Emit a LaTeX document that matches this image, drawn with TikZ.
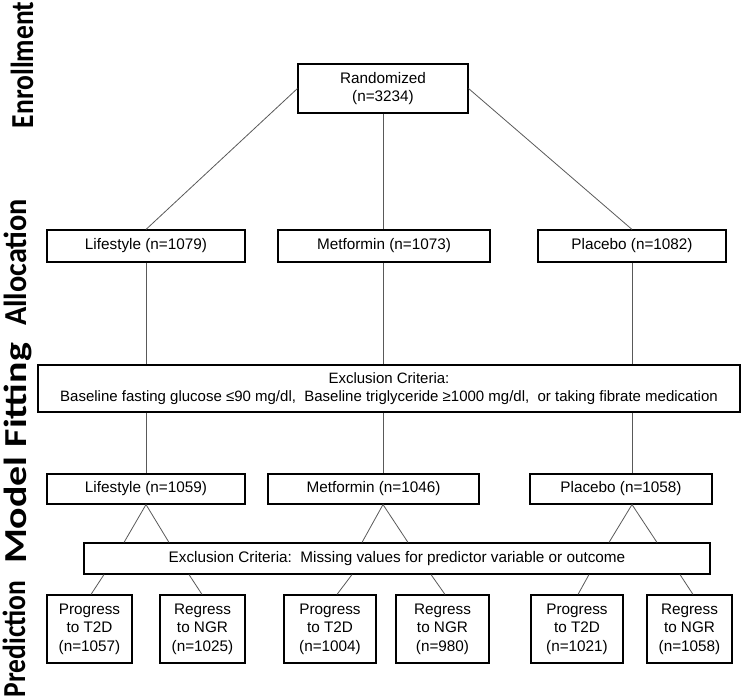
\documentclass[tikz,border=0pt]{standalone}
\usepackage{fontspec}
\setmainfont{Liberation Sans}
\newfontfamily\labfont[FakeStretch=0.86]{Carlito}
\begin{document}
\begin{tikzpicture}[x=1pt,y=-1pt,
  box/.style={draw=black, line width=1.1pt, inner sep=0pt, align=center, font=\fontsize{15.3}{18.6}\selectfont},
  conn/.style={draw=black!65, line width=0.8pt},
  phase/.style={rotate=90, anchor=base, inner sep=0pt, font=\labfont\bfseries\fontsize{32}{36}\selectfont}]
\useasboundingbox (0,0) rectangle (742,698);
% phase labels
\node[phase] (ph1) at (33,65) {Enrollment};
\node[phase] (ph2) at (26,262.5) {\scalebox{1.1}[1]{Allocation}};
\node[phase] (ph3) at (27,453.5) {\scalebox{1.45}[1]{Model Fitting}};
\node[phase] (ph4) at (25,639) {Prediction};
% boxes
\node[box, minimum width=170pt, minimum height=49pt] (rand) at (383,88.5) {Randomized\\(n=3234)};
\node[box, minimum width=198pt, minimum height=32pt] (a1) at (146,246) {Lifestyle (n=1079)};
\node[box, minimum width=212pt, minimum height=32pt] (a2) at (384,246) {Metformin (n=1073)};
\node[box, minimum width=188pt, minimum height=32pt] (a3) at (632,246) {Placebo (n=1082)};
\node[box, minimum width=702pt, minimum height=47pt, font=\fontsize{15}{18.3}\selectfont] (x1) at (389,388.5) {Exclusion Criteria:\\Baseline fasting glucose ≤90 mg/dl,\ \ Baseline triglyceride ≥1000 mg/dl,\ \ or taking fibrate medication};
\node[box, minimum width=198pt, minimum height=30pt] (b1) at (146,489) {Lifestyle (n=1059)};
\node[box, minimum width=211pt, minimum height=30pt] (b2) at (373.5,489) {Metformin (n=1046)};
\node[box, minimum width=182pt, minimum height=30pt] (b3) at (621,489) {Placebo (n=1058)};
\node[box, minimum width=626pt, minimum height=31pt] (x2) at (397,558.5) {Exclusion Criteria:\ \ Missing values for predictor variable or outcome};
\node[box, minimum width=85pt, minimum height=68pt] (p1) at (89.5,629) {Progress\\to T2D\\(n=1057)};
\node[box, minimum width=85pt, minimum height=68pt] (p2) at (202.5,629) {Regress\\to NGR\\(n=1025)};
\node[box, minimum width=92pt, minimum height=68pt] (p3) at (330,629) {Progress\\to T2D\\(n=1004)};
\node[box, minimum width=93pt, minimum height=68pt] (p4) at (442.5,629) {Regress\\to NGR\\(n=980)};
\node[box, minimum width=92pt, minimum height=68pt] (p5) at (577,629) {Progress\\to T2D\\(n=1021)};
\node[box, minimum width=85pt, minimum height=68pt] (p6) at (689.5,629) {Regress\\to NGR\\(n=1058)};
% column coordinates
\coordinate (c1) at (146,0);
\coordinate (c2) at (383,0);
\coordinate (c3) at (632,0);
% connectors
\draw[conn] (rand.west) -- (a1.north -| c1);
\draw[conn] (rand.south -| c2) -- (a2.north -| c2);
\draw[conn] (rand.east) -- (a3.north -| c3);
\draw[conn] (a1.south -| c1) -- (x1.north -| c1);
\draw[conn] (a2.south -| c2) -- (x1.north -| c2);
\draw[conn] (a3.south -| c3) -- (x1.north -| c3);
\draw[conn] (x1.south -| c1) -- (b1.north -| c1);
\draw[conn] (x1.south -| c2) -- (b2.north -| c2);
\draw[conn] (x1.south -| c3) -- (b3.north -| c3);
\draw[conn] (x2.north -| 124,0) -- (b1.south -| c1) -- (x2.north -| 169,0);
\draw[conn] (x2.north -| 362,0) -- (b2.south -| c2) -- (x2.north -| 408,0);
\draw[conn] (x2.north -| 609,0) -- (b3.south -| c3) -- (x2.north -| 657,0);
\draw[conn] (x2.south -| 104,0) -- (p1.north -| 91,0);
\draw[conn] (x2.south -| 189,0) -- (p2.north -| 202,0);
\draw[conn] (x2.south -| 352,0) -- (p3.north -| 337,0);
\draw[conn] (x2.south -| 431,0) -- (p4.north -| 445,0);
\draw[conn] (x2.south -| 589,0) -- (p5.north -| 578,0);
\draw[conn] (x2.south -| 680,0) -- (p6.north -| 693,0);
\end{tikzpicture}
\end{document}
